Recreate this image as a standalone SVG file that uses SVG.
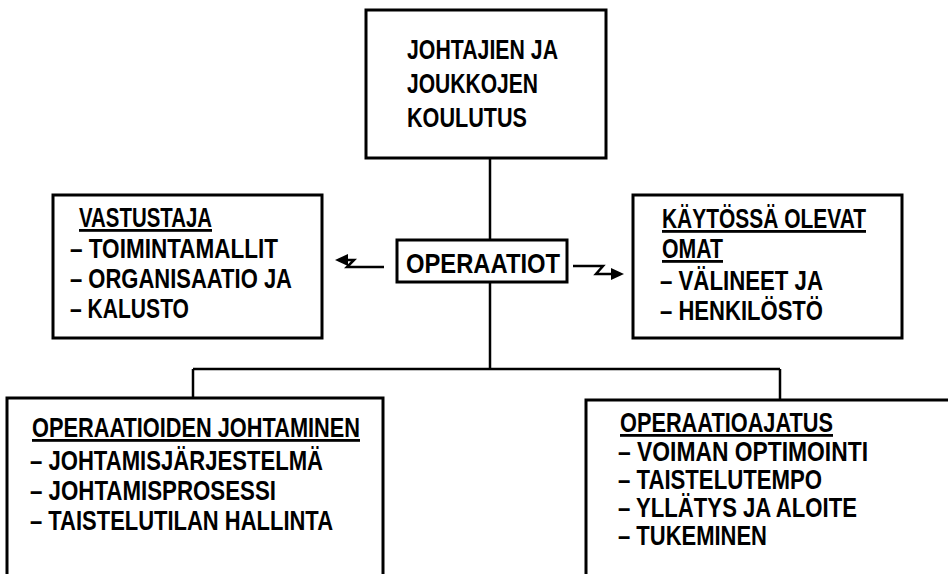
<svg xmlns="http://www.w3.org/2000/svg" width="948" height="574" viewBox="0 0 948 574">
<style>
.box{fill:#fff;stroke:#000;stroke-width:3}
.t{font-family:"Liberation Sans Narrow","Liberation Sans",Arial,sans-serif;font-weight:bold;font-size:28px;fill:#000}
.u{text-decoration:underline}
.c{stroke:#000;stroke-width:2.5;fill:none}
.h{fill:#000}
</style>
<rect width="948" height="574" fill="#fff"/>
<g id="connectors">
<line class="c" x1="490" y1="158" x2="490" y2="240"/>
<line class="c" x1="490" y1="282" x2="490" y2="369"/>
<line class="c" x1="193" y1="369" x2="780" y2="369"/>
<line class="c" x1="193" y1="369" x2="193" y2="398"/>
<line class="c" x1="780" y1="369" x2="780" y2="400"/>
<path class="c" stroke-width="3" d="M384,267 H347 L354,260 H344"/>
<polygon class="h" points="335,260 348,254 348,266"/>
<path class="c" stroke-width="3" d="M573,266 H603 L596,274 H612"/>
<polygon class="h" points="624,274 611,268 611,280"/>
</g>
<g id="koulutus">
<rect class="box" x="366" y="10" width="240" height="148"/>
<text class="t" font-size="29" x="407" y="59" textLength="151" lengthAdjust="spacingAndGlyphs">JOHTAJIEN JA</text>
<text class="t" font-size="29" x="407" y="93" textLength="131" lengthAdjust="spacingAndGlyphs">JOUKKOJEN</text>
<text class="t" font-size="29" x="407" y="127" textLength="120" lengthAdjust="spacingAndGlyphs">KOULUTUS</text>
</g>
<g id="operaatiot">
<rect class="box" x="397" y="240" width="170" height="42"/>
<text class="t" font-size="28" x="406" y="273" textLength="154" lengthAdjust="spacingAndGlyphs">OPERAATIOT</text>
</g>
<g id="vastustaja">
<rect class="box" x="53" y="195" width="269" height="143"/>
<text class="t u" x="79" y="227" textLength="133" lengthAdjust="spacingAndGlyphs">VASTUSTAJA</text>
<text class="t" x="70" y="258" textLength="208" lengthAdjust="spacingAndGlyphs">– TOIMINTAMALLIT</text>
<text class="t" x="70" y="288" textLength="222" lengthAdjust="spacingAndGlyphs">– ORGANISAATIO JA</text>
<text class="t" x="70" y="318" textLength="119" lengthAdjust="spacingAndGlyphs">– KALUSTO</text>
</g>
<g id="omat">
<rect class="box" x="633" y="195" width="269" height="143"/>
<text class="t u" x="662" y="228" textLength="204" lengthAdjust="spacingAndGlyphs">KÄYTÖSSÄ OLEVAT</text>
<text class="t u" x="662" y="258" textLength="61" lengthAdjust="spacingAndGlyphs">OMAT</text>
<text class="t" x="660" y="290" textLength="163" lengthAdjust="spacingAndGlyphs">– VÄLINEET JA</text>
<text class="t" x="660" y="320" textLength="163" lengthAdjust="spacingAndGlyphs">– HENKILÖSTÖ</text>
</g>
<g id="johtaminen">
<rect class="box" x="7" y="398" width="376" height="180"/>
<text class="t u" x="32" y="437" textLength="328" lengthAdjust="spacingAndGlyphs">OPERAATIOIDEN JOHTAMINEN</text>
<text class="t" x="30" y="470" textLength="293" lengthAdjust="spacingAndGlyphs">– JOHTAMISJÄRJESTELMÄ</text>
<text class="t" x="30" y="500" textLength="246" lengthAdjust="spacingAndGlyphs">– JOHTAMISPROSESSI</text>
<text class="t" x="30" y="530" textLength="303" lengthAdjust="spacingAndGlyphs">– TAISTELUTILAN HALLINTA</text>
</g>
<g id="operaatioajatus">
<rect class="box" x="586" y="400" width="380" height="178"/>
<text class="t u" x="620" y="432" textLength="213" lengthAdjust="spacingAndGlyphs">OPERAATIOAJATUS</text>
<text class="t" x="618" y="461" textLength="250" lengthAdjust="spacingAndGlyphs">– VOIMAN OPTIMOINTI</text>
<text class="t" x="618" y="489" textLength="204" lengthAdjust="spacingAndGlyphs">– TAISTELUTEMPO</text>
<text class="t" x="618" y="517" textLength="239" lengthAdjust="spacingAndGlyphs">– YLLÄTYS JA ALOITE</text>
<text class="t" x="618" y="545" textLength="149" lengthAdjust="spacingAndGlyphs">– TUKEMINEN</text>
</g>
</svg>
